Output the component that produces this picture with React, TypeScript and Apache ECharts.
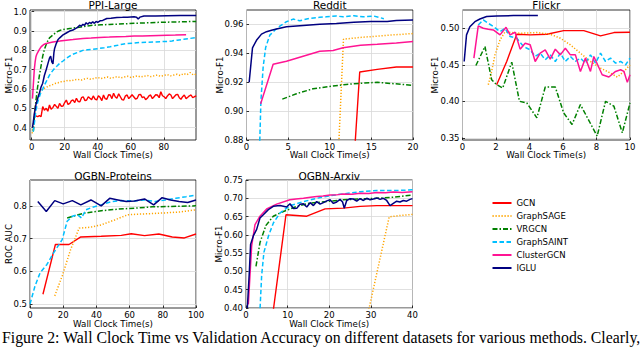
import React, { useEffect, useRef } from "react";
import * as echarts from "echarts";

type Pt = [number, number];

const methods = ["GCN", "GraphSAGE", "VRGCN", "GraphSAINT", "ClusterGCN", "IGLU"];
const methodColors = ["#ff0000", "#ffa500", "#008000", "#00bfff", "#ff1493", "#000080"];

// ---------- PPI-Large ----------
const ppiXTicks = [0, 20, 40, 60, 80];
const ppiYTicks = [0.4, 0.5, 0.6, 0.7, 0.8, 0.9, 1.0];
const ppiGCN: Pt[] = [[1.6,0.474],[2.7,0.46],[3.7,0.457],[4.7,0.462],[5.7,0.457],[6.7,0.509],[7.7,0.49],[8.8,0.5],[9.8,0.485],[10.8,0.517],[11.8,0.495],[12.9,0.505],[13.9,0.52],[14.9,0.51],[15.9,0.5],[16.9,0.525],[18,0.51],[19,0.512],[20,0.53],[21,0.543],[22,0.52],[23.1,0.526],[24.1,0.54],[25.1,0.543],[26.1,0.53],[27.1,0.552],[28.2,0.535],[29.2,0.534],[30.2,0.555],[31.2,0.56],[32.3,0.54],[33.3,0.543],[34.3,0.56],[35.3,0.552],[36.3,0.545],[37.3,0.564],[38.4,0.548],[39.4,0.543],[40.4,0.565],[41.4,0.557],[42.5,0.54],[43.5,0.569],[44.5,0.55],[45.5,0.547],[46.6,0.57],[47.6,0.569],[48.6,0.55],[49.6,0.578],[50.6,0.56],[51.6,0.552],[52.7,0.575],[53.7,0.56],[54.7,0.545],[55.7,0.543],[56.8,0.565],[57.8,0.569],[58.8,0.55],[59.8,0.56],[60.8,0.57],[61.8,0.56],[62.9,0.548],[63.9,0.552],[64.9,0.57],[65.9,0.572],[67,0.555],[68,0.56],[69,0.545],[70,0.552],[71,0.565],[72,0.569],[73.1,0.55],[74.1,0.56],[75.1,0.57],[76.1,0.569],[77.2,0.555],[78.2,0.586],[79.2,0.565],[80.2,0.56],[81.2,0.55],[82.2,0.564],[83.3,0.575],[84.3,0.569],[85.3,0.55],[86.3,0.56],[87.4,0.57],[88.4,0.572],[89.4,0.555],[90.4,0.547],[91.4,0.56],[92.4,0.569],[93.5,0.55],[94.5,0.557],[95.5,0.565],[96.5,0.569],[97.5,0.555],[98.5,0.56],[99.6,0.564]];
const ppiSAGE: Pt[] = [[0.3,0.37],[1,0.42],[2,0.5],[3,0.55],[4,0.57],[5,0.585],[6,0.595],[7,0.6],[8,0.605],[9,0.608],[10,0.615],[12,0.62],[14,0.628],[16,0.632],[18,0.638],[20,0.64],[22,0.645],[24,0.642],[26,0.648],[28,0.65],[30,0.646],[32,0.652],[34,0.655],[36,0.65],[38,0.656],[40,0.66],[42,0.654],[44,0.658],[46,0.662],[48,0.655],[50,0.66],[52,0.664],[54,0.658],[56,0.662],[58,0.666],[60,0.66],[62,0.664],[64,0.668],[66,0.662],[68,0.666],[70,0.67],[72,0.664],[74,0.668],[76,0.672],[78,0.666],[80,0.67],[82,0.675],[84,0.668],[86,0.672],[88,0.676],[90,0.67],[92,0.68],[94,0.674],[96,0.685],[98,0.672],[99.6,0.678]];
const ppiVRGCN: Pt[] = [[1,0.38],[1.6,0.45],[2.6,0.54],[3.6,0.61],[4.7,0.67],[5.7,0.72],[6.7,0.77],[7.7,0.805],[8.8,0.83],[9.8,0.85],[10.8,0.865],[12.9,0.88],[15,0.895],[17,0.903],[19,0.908],[21,0.911],[24,0.914],[27,0.918],[30,0.921],[33,0.925],[37,0.93],[42,0.932],[47,0.934],[52,0.936],[57,0.938],[62,0.94],[67,0.942],[72,0.943],[77,0.945],[82,0.946],[87,0.947],[92,0.948],[99.6,0.95]];
const ppiSAINT: Pt[] = [[1,0.38],[1.6,0.42],[2.6,0.49],[3.6,0.53],[4.7,0.56],[5.7,0.585],[6.7,0.6],[7.7,0.62],[8.8,0.638],[9.8,0.655],[10.8,0.672],[12.3,0.69],[13.9,0.707],[15.5,0.72],[17,0.733],[19,0.745],[21,0.759],[23,0.77],[25,0.78],[28,0.79],[31,0.8],[34,0.803],[37,0.806],[41,0.81],[44,0.814],[47.5,0.819],[52,0.826],[55,0.832],[57.8,0.836],[62,0.838],[66,0.841],[70,0.842],[74,0.843],[78,0.845],[82,0.846],[85,0.849],[88,0.853],[92,0.857],[96,0.862],[99.6,0.867]];
const ppiCluster: Pt[] = [[0.5,0.55],[1,0.62],[1.6,0.7],[2.1,0.74],[2.6,0.767],[3.1,0.78],[3.7,0.79],[4.7,0.805],[5.7,0.818],[6.7,0.826],[7.7,0.832],[8.8,0.836],[10.8,0.84],[12.9,0.843],[15,0.846],[17,0.848],[21,0.853],[25,0.856],[31,0.862],[36,0.864],[41,0.867],[47,0.869],[52,0.871],[57,0.872],[62,0.874],[67,0.875],[72,0.876],[77,0.877],[82,0.878],[87,0.879],[93.5,0.881]];
const ppiIGLU: Pt[] = [[0.5,0.4],[1,0.43],[1.6,0.47],[2.6,0.52],[3.6,0.55],[4.7,0.58],[5.7,0.61],[6.7,0.63],[7.7,0.67],[8.8,0.7],[9.8,0.73],[10.8,0.76],[11.5,0.77],[12.2,0.74],[12.9,0.73],[13.5,0.79],[13.9,0.81],[14.9,0.835],[15.9,0.855],[17,0.865],[19,0.88],[21,0.89],[23,0.9],[25,0.905],[27,0.915],[28,0.92],[29,0.93],[30,0.925],[31,0.935],[32,0.93],[33,0.943],[34,0.935],[35,0.945],[36,0.94],[37,0.948],[38,0.94],[39,0.95],[40,0.945],[41.4,0.953],[43,0.955],[45.5,0.965],[48,0.966],[51.6,0.97],[55,0.971],[58,0.972],[62,0.974],[63.5,0.972],[64.5,0.962],[65.5,0.972],[68,0.978],[75,0.978],[82,0.979],[90,0.98],[99.6,0.981]];

// ---------- Reddit ----------
const redditXTicks = [0, 5, 10, 15, 20];
const redditYTicks = [0.88, 0.9, 0.92, 0.94, 0.96];
const redditGCN: Pt[] = [[12.85,0.86],[13.6,0.9271],[15.7,0.9289],[18,0.9305],[20,0.9305]];
const redditSAGE: Pt[] = [[10.95,0.86],[11.65,0.9498],[13.65,0.951],[15.7,0.9519],[17.7,0.9528],[20,0.9537]];
const redditVRGCN: Pt[] = [[4.3,0.9083],[6,0.912],[8,0.9155],[10,0.9171],[12,0.9185],[14,0.9194],[15.7,0.9199],[17.7,0.919],[20,0.9178]];
const redditSAINT: Pt[] = [[1.5,0.86],[1.73,0.907],[2.0,0.9305],[2.3,0.944],[2.8,0.9526],[3.4,0.956],[4.0,0.9588],[4.8,0.9619],[5.6,0.9637],[6.4,0.9626],[7.6,0.9642],[8.8,0.9649],[9.6,0.9653],[10.8,0.9658],[11.6,0.9653],[12.9,0.966],[14,0.9653],[15.3,0.9658],[16.5,0.964]];
const redditCluster: Pt[] = [[1.7,0.905],[3.2,0.9324],[4.8,0.9345],[6.8,0.938],[8.8,0.9414],[10.4,0.942],[11.6,0.9438],[13.7,0.9456],[15.7,0.9463],[18,0.9472],[20,0.9482]];
const redditIGLU: Pt[] = [[0.32,0.92],[0.72,0.9438],[1.2,0.949],[1.8,0.9533],[2.4,0.955],[3.0,0.956],[3.6,0.9568],[4.8,0.9584],[6.8,0.9593],[8.8,0.9602],[10.8,0.9607],[12.9,0.9616],[14.9,0.962],[16.9,0.962],[18,0.9628],[20,0.963]];

// ---------- Flickr ----------
const flickrXTicks = [0, 2, 4, 6, 8, 10];
const flickrYTicks = [0.35, 0.4, 0.45, 0.5];
const flickrGCN: Pt[] = [[2.04,0.4227],[2.64,0.4545],[3.24,0.4918],[4.04,0.4909],[5.04,0.4918],[6.04,0.4968],[7.24,0.4968],[8.24,0.4895],[9.04,0.4941],[10,0.4945]];
const flickrSAGE: Pt[] = [[1.54,0.4227],[1.74,0.4409],[1.94,0.4636],[2.24,0.4841],[2.54,0.495],[3.44,0.4932],[4.44,0.4941],[5.24,0.4918],[5.84,0.4864],[6.44,0.4773],[7.04,0.4659],[7.64,0.4545],[8.24,0.4455],[8.84,0.4386],[9.24,0.4332],[9.64,0.4409],[10,0.45]];
const flickrVRGCN: Pt[] = [[0.8,0.449],[1.34,0.475],[1.74,0.4295],[2.04,0.4227],[2.4,0.4182],[2.94,0.4536],[3.4,0.4],[3.84,0.3977],[4.44,0.3773],[4.94,0.4195],[5.54,0.4195],[6.04,0.3841],[6.54,0.3682],[7.04,0.3955],[8.04,0.3523],[8.54,0.4],[9.04,0.3932],[9.54,0.3568],[10,0.3977]];
const flickrSAINT: Pt[] = [[0.94,0.5045],[1.24,0.5114],[1.54,0.5068],[1.84,0.5023],[2.24,0.4955],[2.54,0.5],[2.84,0.4886],[3.24,0.4864],[3.64,0.475],[4.04,0.4705],[4.34,0.4614],[4.64,0.4659],[4.94,0.4568],[5.24,0.4636],[5.54,0.4545],[5.84,0.4659],[6.14,0.4545],[6.44,0.4614],[6.74,0.4545],[7.04,0.4591],[7.34,0.4523],[7.64,0.4636],[7.94,0.4523],[8.24,0.4659],[8.54,0.4545],[8.84,0.4591],[9.14,0.4523],[9.44,0.4545],[9.74,0.45],[10,0.4591]];
const flickrCluster: Pt[] = [[0.68,0.4591],[0.94,0.5032],[1.24,0.5],[1.54,0.4986],[1.84,0.4977],[2.24,0.4909],[2.6,0.5014],[2.84,0.4909],[3.14,0.4945],[3.44,0.4714],[3.74,0.4795],[4.04,0.4773],[4.34,0.4545],[4.64,0.4659],[4.94,0.4705],[5.24,0.4577],[5.54,0.4714],[5.84,0.4636],[6.14,0.4727],[6.44,0.4636],[6.74,0.4636],[7.04,0.4409],[7.34,0.4591],[7.64,0.4409],[7.84,0.4614],[8.34,0.4364],[8.74,0.4332],[9.14,0.4409],[9.44,0.4432],[9.64,0.4409],[9.84,0.4259],[10,0.4364]];
const flickrIGLU: Pt[] = [[0.1,0.4545],[0.24,0.4909],[0.44,0.502],[0.74,0.509],[1.04,0.5127],[1.44,0.516],[2.04,0.5168],[3.04,0.5173],[4.5,0.5173]];

// ---------- OGBN-Proteins ----------
const proteinsXTicks = [0, 20, 40, 60, 80, 100];
const proteinsYTicks = [0.5, 0.6, 0.7, 0.8];
const proteinsGCN: Pt[] = [[7.8,0.53],[15.3,0.682],[23.5,0.682],[30.6,0.705],[42.9,0.707],[55,0.71],[61,0.715],[69,0.709],[77.6,0.714],[85.7,0.705],[93,0.702],[100,0.714]];
const proteinsSAGE: Pt[] = [[14.9,0.525],[19.4,0.586],[24.5,0.667],[29.6,0.732],[36.7,0.735],[42.9,0.742],[51,0.757],[59,0.773],[67,0.775],[79.6,0.778],[89.8,0.781],[100,0.788]];
const proteinsVRGCN: Pt[] = [[22.4,0.763],[32.7,0.778],[42.9,0.785],[53,0.79],[63,0.793],[73.5,0.797],[83.7,0.798],[100,0.8]];
const proteinsSAINT: Pt[] = [[0,0.5],[3,0.555],[6.1,0.596],[10.2,0.621],[14.3,0.657],[19.4,0.697],[22.4,0.753],[25.5,0.768],[28.6,0.773],[31,0.763],[33.7,0.788],[37.8,0.796],[42.9,0.803],[49,0.813],[55,0.816],[63,0.815],[69,0.818],[75.5,0.813],[81.6,0.818],[87.8,0.823],[94,0.828],[100,0.833]];
const proteinsCluster: Pt[] = [];
const proteinsIGLU: Pt[] = [[4.7,0.813],[9.8,0.783],[14.9,0.816],[20,0.806],[25.5,0.816],[30.6,0.803],[36.7,0.818],[42.9,0.8],[48,0.823],[53,0.818],[58,0.813],[63,0.815],[69,0.821],[74.5,0.803],[79.6,0.825],[84.7,0.818],[89.8,0.813],[95,0.81],[100,0.818]];

// ---------- OGBN-Arxiv ----------
const arxivXTicks = [0, 10, 20, 30, 40];
const arxivYTicks = [0.4, 0.45, 0.5, 0.55, 0.6, 0.65, 0.7, 0.75];
const arxivGCN: Pt[] = [[6.4,0.38],[9.6,0.655],[14.6,0.651],[19,0.671],[23.4,0.673],[27.4,0.678],[31.4,0.68],[40,0.68]];
const arxivSAGE: Pt[] = [[29.2,0.38],[34.4,0.649],[37,0.653],[40,0.656]];
const arxivVRGCN: Pt[] = [[2.4,0.514],[3.36,0.579],[4.8,0.626],[6.56,0.651],[9,0.664],[12.2,0.678],[15.4,0.687],[19.4,0.691],[23.4,0.696],[27.4,0.698],[31.4,0.7],[35.4,0.703],[40,0.709]];
const arxivSAINT: Pt[] = [[3.3,0.38],[3.76,0.489],[4.3,0.552],[5.4,0.597],[6.6,0.633],[8.2,0.66],[10.6,0.68],[13.8,0.691],[17,0.7],[20.2,0.707],[23.4,0.712],[27.4,0.718],[31.4,0.721],[35.4,0.721],[40,0.723]];
const arxivCluster: Pt[] = [[0.56,0.41],[1.36,0.57],[2.16,0.628],[3.36,0.651],[4.96,0.671],[7.36,0.684],[10.56,0.696],[12,0.698],[13.8,0.7],[15.5,0.703],[17,0.705],[18.5,0.706],[20.2,0.709],[22,0.71],[23.4,0.712],[25.5,0.711],[27.4,0.714],[29.5,0.713],[31.4,0.716],[33.5,0.715],[35.4,0.717],[37.5,0.716],[40,0.718]];
const arxivIGLU: Pt[] = [[0.32,0.4],[0.8,0.498],[1.1,0.574],[1.76,0.597],[2.56,0.615],[3.36,0.646],[4.16,0.655],[5.36,0.669],[6.56,0.678],[8.16,0.68],[9.76,0.676],[10.56,0.685],[11.4,0.672],[12.2,0.673],[13,0.684],[13.8,0.685],[14.6,0.676],[15.4,0.688],[16.2,0.68],[17,0.691],[17.8,0.684],[18.6,0.688],[19.4,0.693],[20.2,0.696],[21,0.686],[21.8,0.69],[22.6,0.697],[23.2,0.69],[23.6,0.673],[24.2,0.694],[25,0.699],[25.8,0.698],[26.6,0.692],[27.4,0.699],[28.2,0.694],[29,0.7],[29.8,0.696],[30.6,0.698],[31.4,0.701],[32.2,0.697],[33,0.7],[33.8,0.694],[34.6,0.68],[35.4,0.686],[36.2,0.692],[37,0.69],[37.8,0.694],[38.6,0.692],[39.4,0.697],[40,0.699]];

const captionText = "Figure 2: Wall Clock Time vs Validation Accuracy on different datasets for various methods. Clearly,";
const xName = "Wall Clock Time(s)";

const FONT = '"DejaVu Sans", sans-serif';

const lineTypes: any[] = ["solid", [1.2, 1.8], [5, 2, 1.5, 2], [4.5, 2.5], "solid", "solid"];
const lineWidths = [1.4, 1.5, 1.5, 1.5, 1.5, 1.5];

const panels = [
  { title: "PPI-Large", left: 30, top: 10, width: 166, height: 130, xMin: -1, xMax: 99.5, xTicks: ppiXTicks, yMin: 0.336, yMax: 1.009, yTicks: ppiYTicks, yDigits: 1, yName: "Micro-F1", yGap: 17, xGap: 10.5, titleY: 4.5, data: [ppiGCN, ppiSAGE, ppiVRGCN, ppiSAINT, ppiCluster, ppiIGLU] },
  { title: "Reddit", left: 246.5, top: 10, width: 166.5, height: 130, xMin: 0, xMax: 20, xTicks: redditXTicks, yMin: 0.88, yMax: 0.97, yTicks: redditYTicks, yDigits: 2, yName: "Micro-F1", yGap: 22, xGap: 10.5, titleY: 4.5, data: [redditGCN, redditSAGE, redditVRGCN, redditSAINT, redditCluster, redditIGLU] },
  { title: "Flickr", left: 462.5, top: 10, width: 167.5, height: 130, xMin: 0, xMax: 10, xTicks: flickrXTicks, yMin: 0.347, yMax: 0.525, yTicks: flickrYTicks, yDigits: 2, yName: "Micro-F1", yGap: 23, xGap: 10.5, titleY: 4.5, data: [flickrGCN, flickrSAGE, flickrVRGCN, flickrSAINT, flickrCluster, flickrIGLU] },
  { title: "OGBN-Proteins", left: 30, top: 180, width: 166, height: 128, xMin: 0, xMax: 100, xTicks: proteinsXTicks, yMin: 0.488, yMax: 0.879, yTicks: proteinsYTicks, yDigits: 1, yName: "ROC AUC", yGap: 17, xGap: 11.8, titleY: 175.5, data: [proteinsGCN, proteinsSAGE, proteinsVRGCN, proteinsSAINT, proteinsCluster, proteinsIGLU] },
  { title: "OGBN-Arxiv", left: 246, top: 180, width: 166.5, height: 128, xMin: 0, xMax: 40, xTicks: arxivXTicks, yMin: 0.4, yMax: 0.75, yTicks: arxivYTicks, yDigits: 2, yName: "Micro-F1", yGap: 23, xGap: 11.8, titleY: 175.5, data: [arxivGCN, arxivSAGE, arxivVRGCN, arxivSAINT, arxivCluster, arxivIGLU] },
];

export default function App() {
  const ref = useRef<HTMLDivElement>(null);
  useEffect(() => {
    if (!ref.current) return;
    const chart = echarts.init(ref.current, null, { renderer: "svg" });
    const axisText = { fontSize: 8.5, fontFamily: FONT, color: "#000" };
    const option: any = {
      animation: false,
      backgroundColor: "#fff",
      grid: panels.map((p) => ({
        left: p.left, top: p.top, width: p.width, height: p.height,
        show: true, borderColor: "#000", borderWidth: 0.8, containLabel: false, outerBoundsMode: "none",
      })),
      xAxis: panels.map((p, i) => ({
        type: "value", gridIndex: i, min: p.xMin, max: p.xMax,
        name: xName, nameLocation: "middle", nameGap: p.xGap, nameMoveOverlap: false,
        nameTextStyle: { fontSize: 8.7, fontFamily: FONT, color: "#000", lineHeight: 9 },
        axisLine: { show: false },
        axisTick: { show: true, inside: true, length: 2.5, customValues: p.xTicks, lineStyle: { color: "#000", width: 0.8 } },
        axisLabel: { ...axisText, customValues: p.xTicks, margin: 2, formatter: (v: number) => String(Math.round(v * 1000) / 1000), hideOverlap: false },
        splitLine: { show: true, lineStyle: { color: "#d8d8d8", width: 0.8 } },
      })),
      yAxis: panels.map((p, i) => ({
        type: "value", gridIndex: i, min: p.yMin, max: p.yMax,
        name: p.yName, nameLocation: "middle", nameGap: p.yGap, nameMoveOverlap: false,
        nameTextStyle: { fontSize: 8.7, fontFamily: FONT, color: "#000" },
        axisLine: { show: false },
        axisTick: { show: true, inside: true, length: 2.5, customValues: p.yTicks, lineStyle: { color: "#000", width: 0.8 } },
        axisLabel: { ...axisText, customValues: p.yTicks, margin: 3, formatter: (v: number) => v.toFixed(p.yDigits), hideOverlap: false },
        splitLine: { show: true, lineStyle: { color: "#d8d8d8", width: 0.8 } },
      })),
      legend: {
        data: methods, orient: "vertical", left: 491.5, top: 198.5,
        itemWidth: 19, itemHeight: 9, itemGap: 4, padding: 0, selectedMode: false,
        itemStyle: { opacity: 0, borderWidth: 0 },
        textStyle: { fontSize: 8.5, fontFamily: FONT, color: "#000" },
      },
      series: panels.flatMap((p, i) =>
        methods.map((m, j) => ({
          type: "line", name: m, xAxisIndex: i, yAxisIndex: i, data: p.data[j],
          symbol: "none", showSymbol: false, silent: true, z: 2 + j,
          clip: true,
          emphasis: { disabled: true },
          itemStyle: { color: methodColors[j] },
          lineStyle: { color: methodColors[j], width: lineWidths[j], type: lineTypes[j] },
        }))
      ),
      graphic: [
        ...panels.map((p) => ({
          type: "text", x: p.left + p.width / 2, y: p.titleY, silent: true,
          style: { text: p.title, font: `10.5px ${FONT}`, fill: "#000", align: "center", verticalAlign: "middle", textAlign: "center", textVerticalAlign: "middle" },
        })),
        {
          type: "text", x: 2, y: 337.5, silent: true,
          style: { text: captionText, font: '15.8px "Liberation Serif", serif', lineHeight: 15, fill: "#000", align: "left", verticalAlign: "middle", textAlign: "left", textVerticalAlign: "middle" },
        },
      ],
    };
    chart.setOption(option);
    return () => chart.dispose();
  }, []);
  return <div ref={ref} style={{ position: "fixed", left: 0, top: 0, width: 640, height: 348, background: "#fff" }} />;
}
